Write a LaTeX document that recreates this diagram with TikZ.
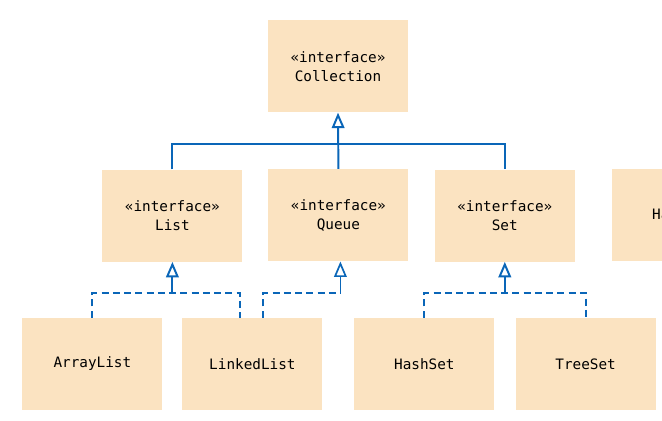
\documentclass[tikz,border=0pt]{standalone}
\usepackage{fontspec}
\setmonofont{DejaVu Sans Mono}
\usetikzlibrary{arrows.meta, positioning, calc}
\definecolor{cpeach}{HTML}{FBE3C1}
\definecolor{cblue}{HTML}{0A66B8}
\tikzset{
  every picture/.style={font=\ttfamily\fontsize{10.2}{13.5}\selectfont},
  umlbox/.style={fill=cpeach, align=center, minimum width=3.5cm, minimum height=2.3cm, inner sep=0pt},
  link/.style={draw=cblue, line width=1.4pt},
  dashlink/.style={link, dash pattern=on 5pt off 3pt},
  extends/.style={link, -{Triangle[open, fill=white, length=11pt, width=9pt]}},
}
\begin{document}
\begin{tikzpicture}
  \clip (0,0) rectangle (16.55,10.5);
  \fill[white] (0,0) rectangle (16.55,10.5);
  \node[umlbox] (coll) at (8.45,8.84) {«interface»\\Collection};
  \node[umlbox] (list) at (4.31,5.11) {«interface»\\List};
  \node[umlbox] (queue) at (8.46,5.12) {«interface»\\Queue};
  \node[umlbox] (set) at (12.62,5.11) {«interface»\\Set};
  \node[umlbox] (map) at (17.06,5.12) {HashMap};
  \node[umlbox] (arraylist) at (2.31,1.4) {ArrayList};
  \node[umlbox] (linkedlist) at (6.31,1.4) {LinkedList};
  \node[umlbox] (hashset) at (10.61,1.4) {HashSet};
  \node[umlbox] (treeset) at (14.64,1.4) {TreeSet};
  \coordinate (bar) at (0,6.9);
  \coordinate (dbar) at (0,3.17);
  \draw[extends] (queue.north) -- (coll.south);
  \draw[link] (list.north) -- (list.north |- bar) -- (set.north |- bar) -- (set.north);
  \draw[dashlink] (arraylist.north) -- (arraylist.north |- dbar) -- ([xshift=1.45cm]linkedlist.north west |- dbar) -- ([xshift=1.45cm]linkedlist.north west);
  \draw[extends] (list.south |- dbar) -- (list.south);
  \draw[dashlink, line width=1.2pt] ([xshift=2.03cm]linkedlist.north west) -- ([xshift=2.03cm]linkedlist.north west |- dbar) -- ([xshift=0.05cm]queue.south |- dbar);
  \draw[extends, line width=1.2pt] ([xshift=0.05cm]queue.south |- dbar) -- ([xshift=0.05cm]queue.south);
  \draw[dashlink] (hashset.north) -- (hashset.north |- dbar) -- (treeset.north |- dbar) -- (treeset.north);
  \draw[extends] (set.south |- dbar) -- (set.south);
\end{tikzpicture}
\end{document}
